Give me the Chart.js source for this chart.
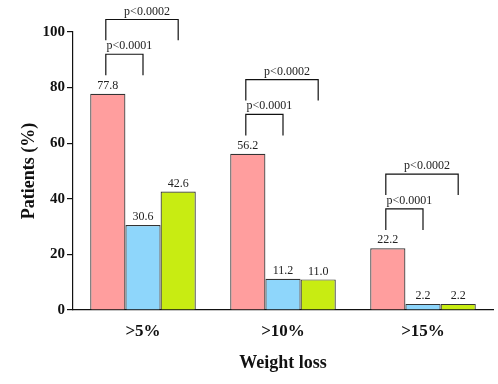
<!DOCTYPE html>
<html>
<head>
<meta charset="utf-8">
<script src="https://cdn.jsdelivr.net/npm/chart.js@4"></script>
<style>
  html, body { margin: 0; padding: 0; background: #fff; }
  #wrap { width: 498px; height: 384px; }
</style>
</head>
<body>
<div id="wrap"><canvas id="chart" width="498" height="384"></canvas></div>
<script>
// data
const categories = [">5%", ">10%", ">15%"];
const seriesA = [77.8, 56.2, 22.2];
const seriesB = [30.6, 11.2, 2.2];
const seriesC = [42.6, 11.0, 2.2];
const pInner = ["p<0.0001", "p<0.0001", "p<0.0001"];
const pOuter = ["p<0.0002", "p<0.0002", "p<0.0002"];
const yTicks = [0, 20, 40, 60, 80, 100];

const serif = "'Liberation Serif', 'Times New Roman', serif";

// value labels + significance brackets
const annotations = {
  id: "annotations",
  afterDatasetsDraw(chart) {
    const ctx = chart.ctx;
    const y = chart.scales.y;
    ctx.save();
    ctx.fillStyle = "#222";
    ctx.font = "12px " + serif;
    ctx.textAlign = "center";
    ctx.textBaseline = "bottom";
    chart.data.datasets.forEach((ds, di) => {
      chart.getDatasetMeta(di).data.forEach((bar, i) => {
        ctx.fillText(ds.data[i].toFixed(1), bar.x, bar.y - 2);
      });
    });

    const mA = chart.getDatasetMeta(0).data;
    const mB = chart.getDatasetMeta(1).data;
    const mC = chart.getDatasetMeta(2).data;
    ctx.strokeStyle = "#111";
    ctx.lineWidth = 1.2;
    const bracket = (x1, x2, lo, hi, label) => {
      const yl = y.getPixelForValue(lo);
      const yh = y.getPixelForValue(hi);
      ctx.beginPath();
      ctx.moveTo(x1, yl);
      ctx.lineTo(x1, yh);
      ctx.lineTo(x2, yh);
      ctx.lineTo(x2, yl);
      ctx.stroke();
      ctx.fillText(label, (x1 + x2) / 2 + 5, yh - 2);
    };
    seriesA.forEach((v, i) => {
      const x1 = mA[i].x - 2;
      bracket(x1, mB[i].x, v + 6.6, v + 14.2, pInner[i]);
      bracket(x1, mC[i].x, v + 19.2, v + 26.7, pOuter[i]);
    });
    ctx.restore();
  }
};

const barStyle = { borderColor: "#333", borderWidth: 1.2, borderSkipped: "start" };

new Chart(document.getElementById("chart"), {
  type: "bar",
  data: {
    labels: categories,
    datasets: [
      { data: seriesA, backgroundColor: "#FF9E9E", ...barStyle },
      { data: seriesB, backgroundColor: "#8ED6FB", ...barStyle },
      { data: seriesC, backgroundColor: "#C8EC12", ...barStyle }
    ]
  },
  options: {
    responsive: false,
    animation: false,
    devicePixelRatio: 1,
    categoryPercentage: 0.754,
    barPercentage: 1,
    layout: { padding: { top: 32, right: 5, left: 0, bottom: 0 } },
    plugins: { legend: { display: false }, tooltip: { enabled: false } },
    scales: {
      x: {
        grid: { display: false },
        border: { display: true, color: "#111", width: 1.2 },
        ticks: { color: "#111", padding: 3, font: { family: serif, size: 17, weight: "bold" } },
        title: {
          display: true, text: "Weight loss", color: "#111",
          font: { family: serif, size: 18, weight: "bold" }, padding: { top: 10, bottom: 10 }
        },
        afterFit(s) { s.height = 74; }
      },
      y: {
        min: 0, max: 100,
        afterBuildTicks(s) { s.ticks = yTicks.map(v => ({ value: v })); },
        grid: { drawOnChartArea: false, drawTicks: true, tickLength: 6, color: "#111", lineWidth: 1.2 },
        border: { display: true, color: "#111", width: 1.2 },
        ticks: { color: "#111", padding: 2, font: { family: serif, size: 15, weight: "bold" } },
        title: {
          display: true, text: "Patients (%)", color: "#111",
          font: { family: serif, size: 18, weight: "bold" }, padding: { top: 19, bottom: 0 }
        },
        afterFit(s) { s.width = 73; }
      }
    }
  },
  plugins: [annotations]
});
</script>
</body>
</html>
